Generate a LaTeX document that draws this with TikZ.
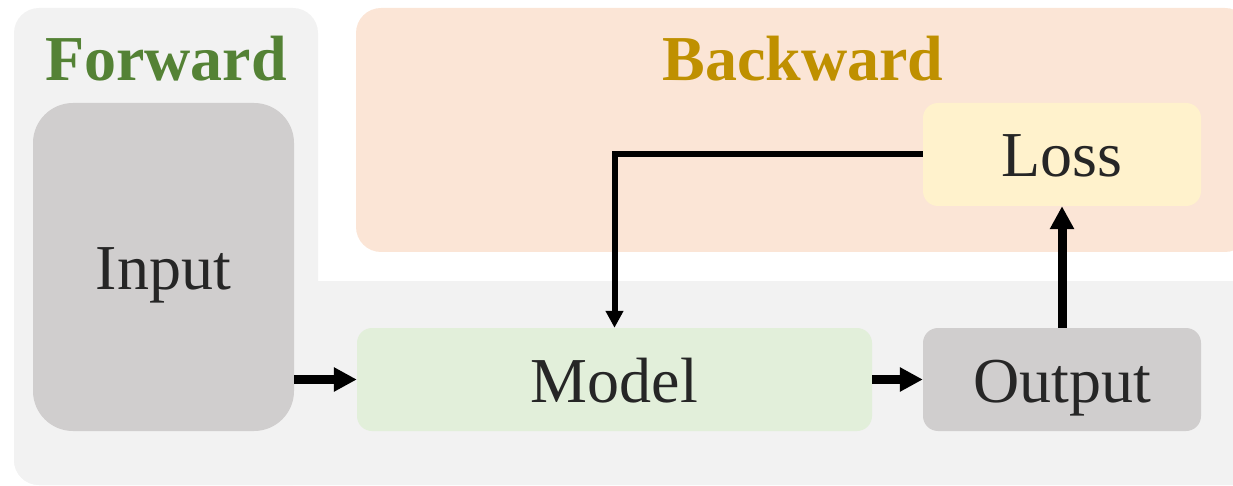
\documentclass[tikz,border=0pt]{standalone}
\usepackage{fontspec}
\setmainfont{Liberation Serif}
\usetikzlibrary{arrows.meta}

\definecolor{panelgray}{HTML}{F2F2F2}
\definecolor{panelpink}{HTML}{FBE5D6}
\definecolor{boxgray}{HTML}{D0CECE}
\definecolor{boxgreen}{HTML}{E2EFDA}
\definecolor{boxyellow}{HTML}{FFF2CC}
\definecolor{textdark}{HTML}{262626}
\definecolor{fwdgreen}{HTML}{548235}
\definecolor{bwdgold}{HTML}{BF9000}

\tikzset{
  stage/.style={draw=none, inner sep=0pt, rounded corners=15pt,
    minimum height=103pt, text height=45pt, text depth=0pt,
    text=textdark, font=\fontsize{64}{70}\selectfont},
  heading/.style={anchor=base, inner sep=0pt,
    font=\fontsize{64}{70}\selectfont\bfseries},
  thickarrow/.style={line width=9pt,
    -{Triangle[length=23pt,width=23pt]}},
  thinarrow/.style={line width=6pt,
    -{Triangle[length=17pt,width=17pt]}},
}

\begin{document}
\begin{tikzpicture}[x=1pt, y=-1pt]
  \useasboundingbox (0,0) rectangle (1233,486);
  \clip (0,0) rectangle (1233,486);

  % forward panel: left column plus bottom band
  \fill[panelgray, rounded corners=25pt] (14,8) rectangle (318,485);
  \fill[panelgray, rounded corners=25pt] (14,281) rectangle (1260,485);

  % backward panel
  \fill[panelpink, rounded corners=25pt] (356,8) rectangle (1250,252);

  % headings
  \node[heading, text=fwdgreen] (fwd) at (166,81) {Forward};
  \node[heading, text=bwdgold] (bwd) at (803,81) {Backward};

  % stages
  \node[stage, fill=boxgray, minimum width=261pt, minimum height=328pt,
        rounded corners=40pt] (input) at (163.5,267) {Input};
  \node[stage, fill=boxgreen, minimum width=515pt] (model) at (614.5,379.5) {Model};
  \node[stage, fill=boxgray, minimum width=278pt] (output) at (1062,379.5) {Output};
  \node[stage, fill=boxyellow, minimum width=278pt] (loss) at (1062,154.5) {Loss};

  % connectors
  \draw[thickarrow] (model.west -| input.east) -- (model.west);
  \draw[thickarrow] (model.east) -- (output.west);
  \draw[thickarrow] (output.north) -- (loss.south);
  \draw[thinarrow] (loss.west) -| (model.north);
\end{tikzpicture}
\end{document}
